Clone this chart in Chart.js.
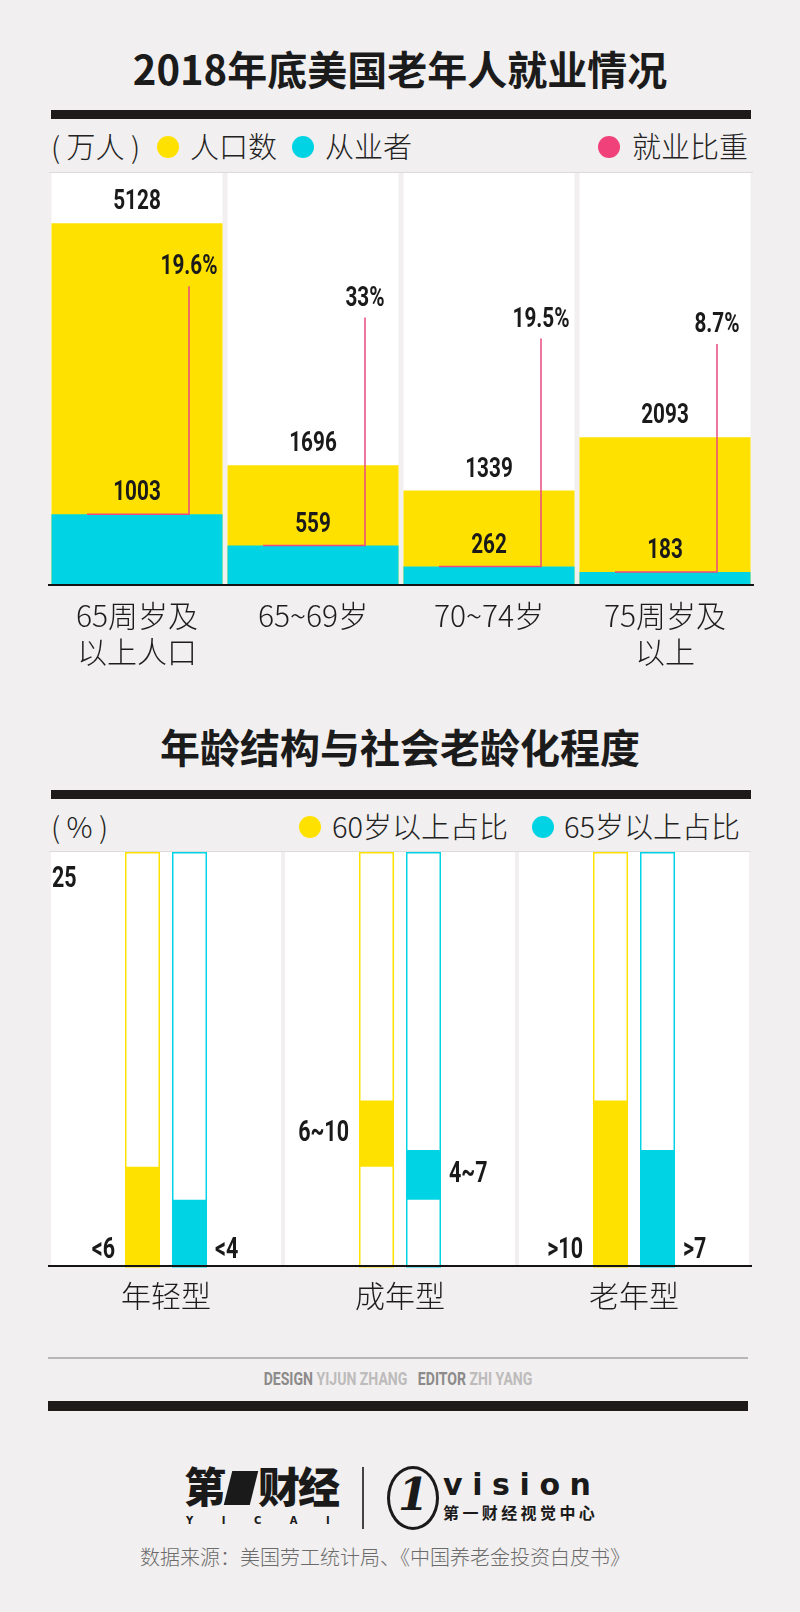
<!DOCTYPE html>
<html>
<head>
<meta charset="utf-8">
<script src="https://cdn.jsdelivr.net/npm/chart.js@4.4.1/dist/chart.umd.min.js"></script>
<style>
  body { margin: 0; background: #f1efef; }
  #page { position: relative; width: 800px; height: 1612px; overflow: hidden; background: #f1efef;
          font-family: "Noto Sans CJK SC", "Noto Sans", sans-serif; color: #1c1c1c; }
  .abs { position: absolute; white-space: nowrap; }
  .title { left: 0; width: 800px; text-align: center; font-size: 40px; font-weight: 700; line-height: 40px; color: #1b1b1b; }
  .rule { background: #1e1a19; }
  .leg { font-size: 29px; line-height: 29px; font-weight: 300; color: #222; }
  .dot { width: 22px; height: 22px; border-radius: 50%; }
  .chartbox { position: absolute; left: 0; width: 800px; }
  .narrow { font-family: Roboto, "DejaVu Sans", sans-serif; font-weight: 700; }
</style>
</head>
<body>
<div id="page">
  <div class="abs title" style="top:48px;">2018年底美国老年人就业情况</div>
  <div class="abs rule" style="left:51px; top:110px; width:700px; height:9px;"></div>

  <div class="abs leg" style="left:51px; top:131px;">( 万人 )</div>
  <div class="abs dot" style="left:157px; top:136px; background:#ffe100;"></div>
  <div class="abs leg" style="left:190px; top:131px;">人口数</div>
  <div class="abs dot" style="left:292px; top:136px; background:#00d4e4;"></div>
  <div class="abs leg" style="left:325px; top:131px;">从业者</div>
  <div class="abs dot" style="left:598px; top:136px; background:#f0417a;"></div>
  <div class="abs leg" style="left:632px; top:131px;">就业比重</div>

  <div class="chartbox" style="top:160px; height:534px;"><canvas id="employChart"></canvas></div>

  <div class="abs title" style="top:726px;">年龄结构与社会老龄化程度</div>
  <div class="abs rule" style="left:51px; top:790px; width:700px; height:9px;"></div>

  <div class="abs leg" style="left:51px; top:811px;">( % )</div>
  <div class="abs dot" style="left:299px; top:816px; background:#ffe100;"></div>
  <div class="abs leg" style="left:332px; top:811px;">60岁以上占比</div>
  <div class="abs dot" style="left:532px; top:816px; background:#00d4e4;"></div>
  <div class="abs leg" style="left:564px; top:811px;">65岁以上占比</div>

  <div class="chartbox" style="top:840px; height:515px;"><canvas id="ageChart"></canvas></div>

  <div class="abs" style="left:48px; top:1357px; width:700px; height:2px; background:#b8b6b6;"></div>
  <div class="abs narrow" style="left:0; width:796px; text-align:center; top:1369px; font-size:19px; line-height:20px; transform:scaleX(0.74);">
    <span style="color:#8c8a8a;">DESIGN</span> <span style="color:#bdbbbb;">YIJUN ZHANG</span>
    &nbsp;&nbsp;<span style="color:#8c8a8a;">EDITOR</span> <span style="color:#bdbbbb;">ZHI YANG</span>
  </div>
  <div class="abs rule" style="left:48px; top:1401px; width:700px; height:10px;"></div>

  <!-- logos -->
  <div class="abs" style="left:184px; top:1462px; font-size:42px; line-height:46px; font-weight:900; color:#1a1a1a; letter-spacing:-2px;">第<span style="display:inline-block; width:26px; height:34px; background:#1a1a1a; transform:skewX(-14deg); margin:0 4px; vertical-align:-2px;"></span>财经</div>
  <div class="abs" style="left:186px; top:1515px; font-family:'DejaVu Sans', sans-serif; font-size:10px; line-height:12px; font-weight:700; letter-spacing:28.5px; color:#1a1a1a;">YICAI</div>
  <div class="abs" style="left:362px; top:1467px; width:1.5px; height:62px; background:#444;"></div>
  <div class="abs" style="left:387px; top:1466px; width:46px; height:58px; border:3px solid #1a1a1a; border-radius:50%;"></div>
  <div class="abs" style="left:398px; top:1472px; font-family:'DejaVu Serif', serif; font-size:44px; line-height:46px; font-style:italic; font-weight:700; color:#1a1a1a;">1</div>
  <div class="abs" style="left:443px; top:1468px; font-family:'DejaVu Sans', sans-serif; font-size:30px; line-height:34px; font-weight:700; letter-spacing:9.6px; color:#1a1a1a;">vision</div>
  <div class="abs" style="left:443px; top:1502px; font-size:16px; line-height:20px; font-weight:700; letter-spacing:3.4px; color:#1a1a1a;">第一财经视觉中心</div>
  <div class="abs" style="left:140px; top:1546px; font-size:20px; line-height:22px; font-weight:300; color:#6b6b6b;">数据来源：美国劳工统计局、《中国养老金投资白皮书》</div>
</div>

<script>
// chart 1: 2018年底美国老年人就业情况 (万人)
const ageGroups = [['65周岁及', '以上人口'], '65~69岁', '70~74岁', ['75周岁及', '以上']];
const population = [5128, 1696, 1339, 2093];
const workers = [1003, 559, 262, 183];
const employmentShare = [19.6, 33, 19.5, 8.7];
const populationMax = 5840;

// chart 2: 年龄结构与社会老龄化程度 (%)
const ageTypes = ['年轻型', '成年型', '老年型'];
const share60 = [[0, 6], [6, 10], [0, 10]];
const share65 = [[0, 4], [4, 7], [0, 7]];
const share60Labels = ['<6', '6~10', '>10'];
const share65Labels = ['<4', '4~7', '>7'];
const shareMax = 25;

const YELLOW = '#ffe100';
const CYAN = '#00d4e4';
const PINK = '#ea4a80';
const CJK = '"Noto Sans CJK SC", "Noto Sans", sans-serif';
const NUM = 'Roboto, "DejaVu Sans", sans-serif';
const SQUEEZE = 0.74;

// condensed bold numbers (no narrow font installed, so squeeze horizontally)
function narrowText(ctx, text, x, y, align, size) {
  ctx.save();
  ctx.font = 'bold ' + size + 'px ' + NUM;
  ctx.fillStyle = '#1a1a1a';
  ctx.textAlign = align;
  ctx.textBaseline = 'middle';
  ctx.translate(x, y);
  ctx.scale(SQUEEZE, 1);
  ctx.fillText(text, 0, 0);
  ctx.restore();
}

// white column behind every category
const whiteColumns = {
  id: 'whiteColumns',
  beforeDatasetsDraw(chart, args, opts) {
    const { ctx, chartArea } = chart;
    const x = chart.scales.x;
    const step = x.getPixelForValue(1) - x.getPixelForValue(0);
    const w = step - opts.gap;
    ctx.save();
    ctx.fillStyle = '#ffffff';
    x.ticks.forEach((t, i) => {
      const cx = x.getPixelForValue(i);
      ctx.fillRect(cx - w / 2, chartArea.top, w, chartArea.bottom - chartArea.top);
    });
    ctx.fillStyle = '#dcdada';
    ctx.fillRect(chartArea.left, chartArea.top - 1, chartArea.right - chartArea.left, 1);
    ctx.restore();
  }
};

const employmentLabels = {
  id: 'employmentLabels',
  afterDatasetsDraw(chart) {
    const { ctx } = chart;
    const workersMeta = chart.getDatasetMeta(0);
    const popMeta = chart.getDatasetMeta(1);
    workersMeta.data.forEach((bar, i) => {
      const lineX = bar.x + 52;
      const lineTop = bar.y - 228;
      ctx.save();
      ctx.strokeStyle = PINK;
      ctx.lineWidth = 1.5;
      ctx.beginPath();
      ctx.moveTo(bar.x - 50, bar.y);
      ctx.lineTo(lineX, bar.y);
      ctx.lineTo(lineX, lineTop);
      ctx.stroke();
      ctx.restore();
      narrowText(ctx, String(workers[i]), bar.x, bar.y - 21, 'center', 28);
      narrowText(ctx, employmentShare[i] + '%', lineX, lineTop - 19, 'center', 28);
    });
    popMeta.data.forEach((bar, i) => {
      narrowText(ctx, String(population[i]), bar.x, bar.y - 21, 'center', 28);
    });
  }
};

const rangeLabels = {
  id: 'rangeLabels',
  beforeDatasetsDraw(chart) {
    // thin outline of the full 0-25 column for each bar
    const { ctx, chartArea } = chart;
    ctx.save();
    ctx.lineWidth = 1.5;
    [0, 1].forEach((d) => {
      ctx.strokeStyle = d === 0 ? YELLOW : CYAN;
      chart.getDatasetMeta(d).data.forEach((bar) => {
        ctx.strokeRect(bar.x - bar.width / 2 + 0.75, chartArea.top + 0.75, bar.width - 1.5, chartArea.bottom - chartArea.top);
      });
    });
    ctx.restore();
  },
  afterDatasetsDraw(chart) {
    const { ctx, chartArea } = chart;
    const y = chart.scales.y;
    narrowText(ctx, String(shareMax), chartArea.left + 3, y.getPixelForValue(shareMax) + 28, 'left', 29);
    const place = (bar, range) => (range[0] === 0 ? bar.base - 15 : (bar.y + bar.base) / 2);
    chart.getDatasetMeta(0).data.forEach((bar, i) => {
      narrowText(ctx, share60Labels[i], bar.x - bar.width / 2 - 10, place(bar, share60[i]), 'right', 29);
    });
    chart.getDatasetMeta(1).data.forEach((bar, i) => {
      narrowText(ctx, share65Labels[i], bar.x + bar.width / 2 + 8, place(bar, share65[i]), 'left', 29);
    });
  }
};

new Chart(document.getElementById('employChart'), {
  type: 'bar',
  data: {
    labels: ageGroups,
    datasets: [
      { label: '从业者', data: workers, backgroundColor: CYAN, grouped: false,
        barPercentage: 0.972, categoryPercentage: 1 },
      { label: '人口数', data: population, backgroundColor: YELLOW, grouped: false,
        barPercentage: 0.972, categoryPercentage: 1 }
    ]
  },
  options: {
    responsive: true,
    maintainAspectRatio: false,
    animation: false,
    layout: { padding: { left: 49, right: 47, top: 13, bottom: 11 } },
    scales: {
      x: {
        grid: { display: false, drawTicks: false },
        border: { display: true, color: '#141414', width: 2, z: 1 },
        ticks: { color: '#1c1c1c', padding: 13, font: { family: CJK, size: 30, weight: 300, lineHeight: 1.2 } }
      },
      y: { display: false, min: 0, max: populationMax }
    },
    plugins: {
      legend: { display: false },
      tooltip: { enabled: false },
      whiteColumns: { gap: 5 }
    }
  },
  plugins: [whiteColumns, employmentLabels]
});

new Chart(document.getElementById('ageChart'), {
  type: 'bar',
  data: {
    labels: ageTypes,
    datasets: [
      { label: '60岁以上占比', data: share60, backgroundColor: YELLOW,
        barPercentage: 0.745, categoryPercentage: 0.4017 },
      { label: '65岁以上占比', data: share65, backgroundColor: CYAN,
        barPercentage: 0.745, categoryPercentage: 0.4017 }
    ]
  },
  options: {
    responsive: true,
    maintainAspectRatio: false,
    animation: false,
    layout: { padding: { left: 49, right: 49, top: 12, bottom: 29 } },
    scales: {
      x: {
        grid: { display: false, drawTicks: false },
        border: { display: true, color: '#141414', width: 2, z: 1 },
        ticks: { color: '#1c1c1c', padding: 12, font: { family: CJK, size: 30, weight: 300, lineHeight: 1.2 } }
      },
      y: { display: false, min: 0, max: shareMax }
    },
    plugins: {
      legend: { display: false },
      tooltip: { enabled: false },
      whiteColumns: { gap: 4 }
    }
  },
  plugins: [whiteColumns, rangeLabels]
});
</script>
</body>
</html>
